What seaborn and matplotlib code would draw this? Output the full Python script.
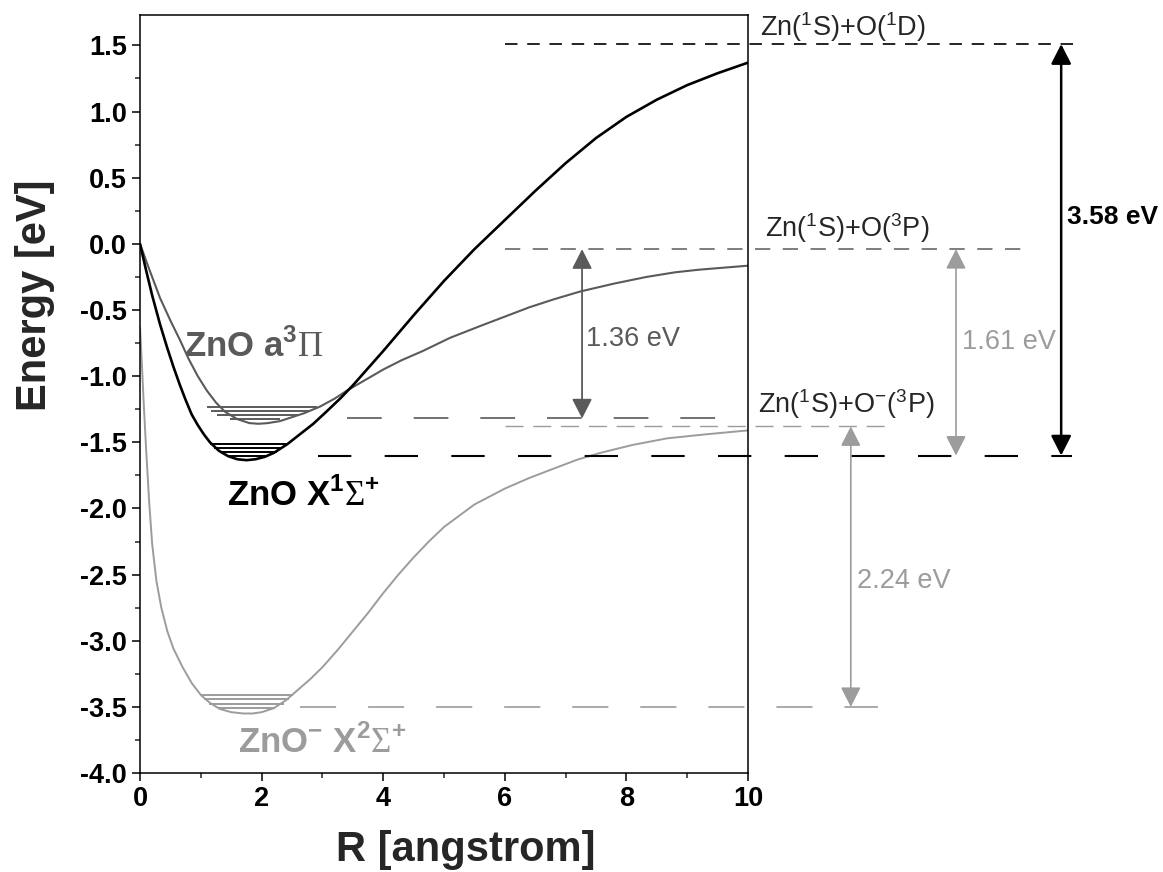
import numpy as np
import pandas as pd
import seaborn as sns
import matplotlib
matplotlib.use('Agg')
import matplotlib.pyplot as plt
from matplotlib.ticker import MultipleLocator, FormatStrFormatter

#%% data
# ZnO X1Sigma+ (black)
r_x = [0, 0.1, 0.2, 0.33, 0.45, 0.55, 0.65, 0.75, 0.85, 0.95, 1.05, 1.15, 1.3, 1.45,
       1.6, 1.75, 1.9, 2.05, 2.2, 2.42, 2.6, 2.85, 3.05, 3.29, 3.5, 3.75, 4.0, 4.5,
       5.0, 5.5, 6.0, 6.5, 7.0, 7.5, 8.0, 8.5, 9.0, 9.5, 10.0]
e_x = [0, -0.2, -0.39, -0.61, -0.79, -0.93, -1.06, -1.18, -1.29, -1.37, -1.44, -1.50, -1.565, -1.605,
       -1.628, -1.635, -1.628, -1.61, -1.58, -1.515, -1.45, -1.36, -1.275, -1.17, -1.07, -0.94, -0.81, -0.54,
       -0.28, -0.04, 0.18, 0.40, 0.61, 0.80, 0.96, 1.09, 1.20, 1.29, 1.37]
# ZnO a3Pi (dark grey)
r_a = [0, 0.15, 0.33, 0.5, 0.66, 0.8, 0.95, 1.1, 1.25, 1.4, 1.6, 1.8, 1.95, 2.1, 2.3,
       2.5, 2.7, 2.96, 3.2, 3.4, 3.7, 4.0, 4.3, 4.65, 5.1, 5.6, 6.0, 6.4, 6.8, 7.24,
       7.8, 8.33, 8.8, 9.2, 9.6, 10.0]
e_a = [0, -0.19, -0.41, -0.58, -0.73, -0.87, -1.0, -1.11, -1.2, -1.27, -1.325, -1.355, -1.36, -1.355, -1.34,
       -1.31, -1.28, -1.23, -1.17, -1.11, -1.03, -0.95, -0.88, -0.81, -0.71, -0.62, -0.55, -0.48, -0.42, -0.36,
       -0.30, -0.25, -0.215, -0.195, -0.18, -0.165]
# ZnO- X2Sigma+ (light grey)
r_an = [0, 0.03, 0.06, 0.1, 0.15, 0.2, 0.27, 0.35, 0.45, 0.55, 0.7, 0.85, 1.0, 1.15,
        1.31, 1.5, 1.7, 1.85, 2.0, 2.2, 2.4, 2.6, 2.8, 3.0, 3.25, 3.5, 3.75, 4.0, 4.25,
        4.5, 4.75, 5.0, 5.5, 6.0, 6.4, 6.74, 7.2, 7.57, 8.1, 8.67, 9.3, 10.0]
e_an = [-0.63, -0.9, -1.2, -1.55, -1.95, -2.27, -2.55, -2.75, -2.93, -3.06, -3.2, -3.32, -3.41, -3.47,
        -3.515, -3.54, -3.55, -3.55, -3.54, -3.51, -3.45, -3.37, -3.29, -3.2, -3.07, -2.93, -2.79, -2.64, -2.5,
        -2.37, -2.25, -2.14, -1.97, -1.85, -1.77, -1.71, -1.63, -1.58, -1.52, -1.47, -1.44, -1.41]

# vibrational levels
lev_x = [-1.51, -1.545, -1.575, -1.605]
lev_x_lo = [1.15, 1.22, 1.31, 1.45]
lev_x_hi = [2.43, 2.34, 2.25, 2.1]
lev_a = [-1.233, -1.263, -1.294, -1.324]
lev_a_lo = [1.10, 1.17, 1.27, 1.48]
lev_a_hi = [2.91, 2.78, 2.6, 2.3]
lev_an = [-3.41, -3.44, -3.475, -3.51]
lev_an_lo = [1.0, 1.06, 1.14, 1.3]
lev_an_hi = [2.52, 2.45, 2.37, 2.22]

# dissociation limits / minima (energy, from, to)
lim_e = [1.51, -0.04, -1.32, -1.38, -1.60, -3.50]
lim_from = [6.0, 6.0, 3.4, 6.0, 2.93, 2.63]
lim_to = [15.43, 14.6, 9.54, 12.28, 15.33, 12.14]

# energy gaps
gap_text = ['1.36 eV', '1.61 eV', '2.24 eV', '3.58 eV']
gap_r = [7.27, 13.42, 11.69, 15.15]
gap_top = [-0.04, -0.04, -1.38, 1.51]
gap_bot = [-1.32, -1.60, -3.50, -1.60]

#%% style
sns.set_theme(style='ticks')
plt.rcParams['font.family'] = ['Liberation Sans', 'DejaVu Sans']
plt.rcParams['axes.unicode_minus'] = False
plt.rcParams['mathtext.fontset'] = 'custom'
plt.rcParams['mathtext.rm'] = 'Liberation Serif'
plt.rcParams['mathtext.sf'] = 'Liberation Sans'
plt.rcParams['mathtext.bf'] = 'Liberation Sans:bold'

BLACK = 'black'
DARK = '#5a5a5a'
LIGHT = '#9c9c9c'

fig = plt.figure(figsize=(11.63, 8.72), dpi=100)
ax = fig.add_axes([0.1204, 0.1135, 0.5228, 0.8693])

#%% curves
sns.lineplot(x=r_an, y=e_an, color=LIGHT, lw=1.4, sort=False, estimator=None, ax=ax)
sns.lineplot(x=r_a, y=e_a, color=DARK, lw=1.5, sort=False, estimator=None, ax=ax)
sns.lineplot(x=r_x, y=e_x, color=BLACK, lw=1.9, sort=False, estimator=None, ax=ax)

ax.hlines(lev_x, lev_x_lo, lev_x_hi, color=BLACK, lw=1.4)
ax.hlines(lev_a, lev_a_lo, lev_a_hi, color=DARK, lw=1.4)
ax.hlines(lev_an, lev_an_lo, lev_an_hi, color=LIGHT, lw=1.4)

# dashed limits
lim_col = [BLACK, DARK, DARK, LIGHT, BLACK, LIGHT]
lim_lw = [1.2, 1.1, 1.2, 1.0, 1.5, 1.2]
lim_dash = [(9, 7), (11, 9), (25, 23), (13, 7), (24, 24), (26, 23)]
for e, a, b, c, w, d in zip(lim_e, lim_from, lim_to, lim_col, lim_lw, lim_dash):
    ax.plot([a, b], [e, e], color=c, lw=w, clip_on=False,
            linestyle=(0, (d[0] / w, d[1] / w)))

# gap arrows
gap_col = [DARK, LIGHT, LIGHT, BLACK]
gap_lw = [1.3, 1.2, 1.2, 1.8]
for r, t, b, c, w in zip(gap_r, gap_top, gap_bot, gap_col, gap_lw):
    ax.annotate('', xy=(r, t), xytext=(r, b), annotation_clip=False,
                arrowprops=dict(arrowstyle='<|-|>,head_length=0.55,head_width=0.28',
                                color=c, lw=w, shrinkA=0, shrinkB=0,
                                mutation_scale=22))

ax.text(7.33, -0.72, gap_text[0], color=DARK, fontsize=19.5, va='center')
ax.text(13.52, -0.74, gap_text[1], color=LIGHT, fontsize=19.5, va='center')
ax.text(11.8, -2.55, gap_text[2], color=LIGHT, fontsize=19.5, va='center')
ax.text(15.25, 0.2, gap_text[3], color=BLACK, fontsize=19, va='center',
        fontweight='bold')

# asymptote labels
ax.text(10.2, 1.64, r'Zn($^{\mathsf{1}}$S)+O($^{\mathsf{1}}$D)', fontsize=19.5, va='center')
ax.text(10.28, 0.12, r'Zn($^{\mathsf{1}}$S)+O($^{\mathsf{3}}$P)', fontsize=19.5, va='center')
ax.text(10.17, -1.21, r'Zn($^{\mathsf{1}}$S)+O$^{\mathsf{-}}$($^{\mathsf{3}}$P)',
        fontsize=19.5, va='center')

# state labels
ax.text(0.72, -0.77, r'ZnO a$^{\mathbf{3}}\mathrm{\Pi}$', color=DARK, fontsize=25,
        fontweight='bold', va='center')
ax.text(1.43, -1.90, r'ZnO X$^{\mathbf{1}}\mathrm{\Sigma}^{\mathbf{+}}$', color=BLACK,
        fontsize=25, fontweight='bold', va='center')
ax.text(1.61, -3.77, r'ZnO$^{\mathbf{-}}$ X$^{\mathbf{2}}\mathrm{\Sigma}^{\mathbf{+}}$',
        color=LIGHT, fontsize=25, fontweight='bold', va='center')

#%% axes
ax.set_xlim(0, 10)
ax.set_ylim(-4.0, 1.73)
ax.xaxis.set_major_locator(MultipleLocator(2))
ax.xaxis.set_minor_locator(MultipleLocator(1))
ax.yaxis.set_major_locator(MultipleLocator(0.5))
ax.yaxis.set_minor_locator(MultipleLocator(0.25))
ax.yaxis.set_major_formatter(FormatStrFormatter('%.1f'))
ax.tick_params(which='major', direction='out', length=6, width=1.1, labelsize=19.5,
               colors='black')
ax.tick_params(which='minor', direction='out', length=3.5, width=1.1)
for lbl in ax.get_xticklabels() + ax.get_yticklabels():
    lbl.set_fontweight('bold')
for sp in ax.spines.values():
    sp.set_linewidth(1.1)
    sp.set_color('black')

ax.set_xlabel('R [angstrom]', fontsize=30, fontweight='bold')
ax.set_ylabel('Energy [eV]', fontsize=30, fontweight='bold')
ax.xaxis.set_label_coords(0.535, -0.075)
ax.yaxis.set_label_coords(-0.14, 0.63)

fig.savefig('out.png', dpi=100)
